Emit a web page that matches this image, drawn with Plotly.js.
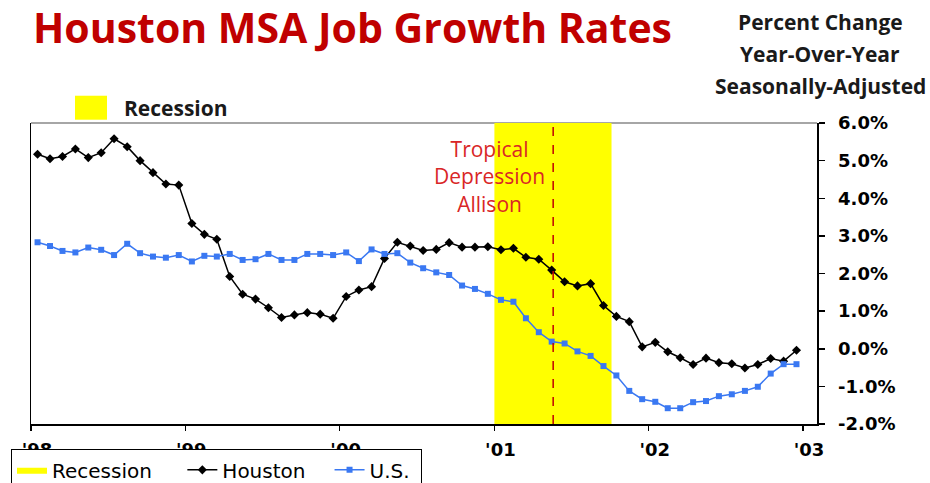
<!DOCTYPE html>
<html>
<head>
<meta charset="utf-8">
<script src="https://cdn.plot.ly/plotly-3.0.1.min.js"></script>
<style>
  html, body { margin: 0; padding: 0; background: #ffffff; }
  #chart { width: 930px; height: 483px; }
</style>
</head>
<body>
<div id="chart"></div>
<script>
// ---- data ----
const months = [
  '1998-01','1998-02','1998-03','1998-04','1998-05','1998-06','1998-07','1998-08','1998-09','1998-10','1998-11','1998-12',
  '1999-01','1999-02','1999-03','1999-04','1999-05','1999-06','1999-07','1999-08','1999-09','1999-10','1999-11','1999-12',
  '2000-01','2000-02','2000-03','2000-04','2000-05','2000-06','2000-07','2000-08','2000-09','2000-10','2000-11','2000-12',
  '2001-01','2001-02','2001-03','2001-04','2001-05','2001-06','2001-07','2001-08','2001-09','2001-10','2001-11','2001-12',
  '2002-01','2002-02','2002-03','2002-04','2002-05','2002-06','2002-07','2002-08','2002-09','2002-10','2002-11','2002-12'
];
const houston = [
  5.17, 5.05, 5.11, 5.31, 5.08, 5.21, 5.58, 5.37, 5.00, 4.68, 4.38, 4.35,
  3.33, 3.04, 2.91, 1.92, 1.45, 1.32, 1.09, 0.83, 0.90, 0.96, 0.92, 0.81,
  1.39, 1.56, 1.65, 2.40, 2.83, 2.73, 2.61, 2.64, 2.82, 2.70, 2.70, 2.71,
  2.63, 2.67, 2.43, 2.38, 2.09, 1.78, 1.67, 1.73, 1.15, 0.86, 0.72, 0.05,
  0.17, -0.08, -0.24, -0.42, -0.25, -0.37, -0.40, -0.51, -0.42, -0.26, -0.33, -0.04
];
const us = [
  2.83, 2.73, 2.60, 2.56, 2.69, 2.63, 2.49, 2.79, 2.54, 2.45, 2.42, 2.49,
  2.32, 2.47, 2.45, 2.52, 2.36, 2.38, 2.52, 2.36, 2.36, 2.52, 2.52, 2.49,
  2.56, 2.33, 2.64, 2.52, 2.54, 2.29, 2.14, 2.03, 1.96, 1.68, 1.59, 1.46,
  1.30, 1.25, 0.81, 0.44, 0.19, 0.14, -0.07, -0.19, -0.46, -0.71, -1.12, -1.34,
  -1.41, -1.58, -1.58, -1.42, -1.39, -1.26, -1.21, -1.12, -1.01, -0.66, -0.41, -0.41
];
const xTickVals = ['1998-01-01','1999-01-01','2000-01-01','2001-01-01','2002-01-01','2003-01-01'];
const xTickText = ["'98","'99","'00","'01","'02","'03"];
const yTickVals = [-2, -1, 0, 1, 2, 3, 4, 5, 6];
const yTickText = ['-2.0%','-1.0%','0.0%','1.0%','2.0%','3.0%','4.0%','5.0%','6.0%'];
const subtitleLines = ['Percent Change', 'Year-Over-Year', 'Seasonally-Adjusted'];
const recessionPeriod = ['2001-01-01', '2001-10-05'];
const allisonDate = '2001-05-20';
const xRange = ['1998-01-01', '2003-02-03'];
const yRange = [-2, 6];

// ---- traces ----
const recessionTrace = {
  type: 'scatter', mode: 'lines', name: 'Recession\u00A0\u00A0\u00A0\u00A0',
  x: [recessionPeriod[0], recessionPeriod[1], recessionPeriod[1], recessionPeriod[0], recessionPeriod[0]],
  y: [yRange[0], yRange[0], yRange[1], yRange[1], yRange[0]],
  fill: 'toself', fillcolor: '#ffff00', line: { width: 0, color: '#ffff00' },
  hoverinfo: 'skip'
};
const houstonTrace = {
  type: 'scatter', mode: 'lines+markers', name: 'Houston\u00A0\u00A0\u00A0',
  x: months, y: houston, xperiod: 'M1', xperiodalignment: 'middle',
  line: { color: '#000000', width: 1.5 },
  marker: { symbol: 'diamond', size: 7, color: '#000000' }
};
const usTrace = {
  type: 'scatter', mode: 'lines+markers', name: 'U.S.\u00A0',
  x: months, y: us, xperiod: 'M1', xperiodalignment: 'middle',
  line: { color: '#3a78f2', width: 1.5 },
  marker: { symbol: 'square', size: 6, color: '#3a78f2' }
};

const tickFont = { family: 'DejaVu Sans', size: 18, weight: 'bold', color: '#000000' };
const subFont = { family: 'Open Sans', size: 21, weight: 'bold', color: '#1a1a1a' };
const subY = [22, 54, 86];

const layout = {
  width: 930, height: 483,
  paper_bgcolor: '#ffffff', plot_bgcolor: '#ffffff',
  margin: { l: 31, r: 113, t: 123, b: 59, autoexpand: false },
  showlegend: true,
  title: {
    text: 'Houston MSA Job Growth Rates',
    xref: 'container', yref: 'container',
    x: 33 / 930, xanchor: 'left', y: 1 - 29 / 483, yanchor: 'middle',
    font: { family: 'Open Sans', size: 41, weight: 'bold', color: '#c00000' }
  },
  xaxis: {
    type: 'date', range: xRange, tickmode: 'array', tickvals: xTickVals, ticktext: xTickText,
    ticks: 'outside', ticklen: 5, tickwidth: 1.5, tickcolor: '#000000',
    showline: true, linecolor: '#000000', linewidth: 1.5,
    showgrid: false, zeroline: false, tickfont: tickFont,
    ticklabelshift: 6, ticklabelstandoff: 4
  },
  xaxis2: {
    type: 'date', range: xRange, overlaying: 'x', anchor: 'y', side: 'bottom',
    tickmode: 'array', tickvals: xTickVals, showticklabels: false,
    ticks: 'inside', ticklen: 4, tickwidth: 1.5, tickcolor: '#000000',
    showline: false, showgrid: false, zeroline: false
  },
  yaxis: {
    range: yRange, side: 'right', tickmode: 'array', tickvals: yTickVals, ticktext: yTickText,
    ticks: 'outside', ticklen: 6, tickwidth: 1.5, tickcolor: '#000000',
    showline: true, mirror: true, linecolor: '#000000', linewidth: 1.5,
    showgrid: false, zeroline: false, tickfont: tickFont, ticklabelstandoff: 10
  },
  yaxis2: {
    range: yRange, overlaying: 'y', anchor: 'x', side: 'right',
    tickmode: 'array', tickvals: yTickVals, showticklabels: false,
    ticks: 'inside', ticklen: 9, tickwidth: 1.5, tickcolor: '#000000',
    showline: false, showgrid: false, zeroline: false
  },
  legend: {
    orientation: 'h', x: (11 - 31) / 786, xanchor: 'left',
    y: (424.6 - 450) / 301.3, yanchor: 'top',
    bordercolor: '#000000', borderwidth: 1, bgcolor: '#ffffff',
    font: { family: 'DejaVu Sans', size: 20, color: '#000000' },
    traceorder: 'normal'
  },
  shapes: [
    { type: 'line', xref: 'paper', yref: 'paper', x0: 0, x1: 1, y0: 1, y1: 1,
      line: { color: '#a6a6a6', width: 2 }, layer: 'below' },
    { type: 'line', xref: 'x', yref: 'paper', x0: allisonDate, x1: allisonDate, y0: 0, y1: 1,
      line: { color: '#c00000', width: 1.5, dash: 'dash' }, layer: 'above' },
    { type: 'rect', xref: 'paper', yref: 'paper',
      x0: (75 - 31) / 786, x1: (107 - 31) / 786,
      y0: (424.6 - 120) / 301.3, y1: (424.6 - 96) / 301.3,
      fillcolor: '#ffff00', line: { width: 0 } }
  ],
  annotations: [
    { text: 'Recession', xref: 'paper', yref: 'paper',
      x: (122 - 31) / 786, xanchor: 'left', y: (424.6 - 108) / 301.3, yanchor: 'middle',
      showarrow: false, font: { family: 'Open Sans', size: 21, weight: 'bold', color: '#1a1a1a' } },
    ...subtitleLines.map((t, i) => ({
      text: t, xref: 'paper', yref: 'paper',
      x: (820 - 31) / 786, xanchor: 'center', y: (424.6 - subY[i]) / 301.3, yanchor: 'middle',
      showarrow: false, font: subFont
    })),
    { text: 'Tropical<br>Depression<br>Allison', xref: 'paper', yref: 'paper',
      x: (489 - 31) / 786, xanchor: 'center', y: (424.6 - 177) / 301.3, yanchor: 'middle',
      showarrow: false, align: 'center',
      font: { family: 'Open Sans', size: 21, color: '#d92626' } }
  ]
};

Plotly.newPlot('chart', [recessionTrace, houstonTrace, usTrace], layout,
  { displayModeBar: false, staticPlot: true });
</script>
</body>
</html>
